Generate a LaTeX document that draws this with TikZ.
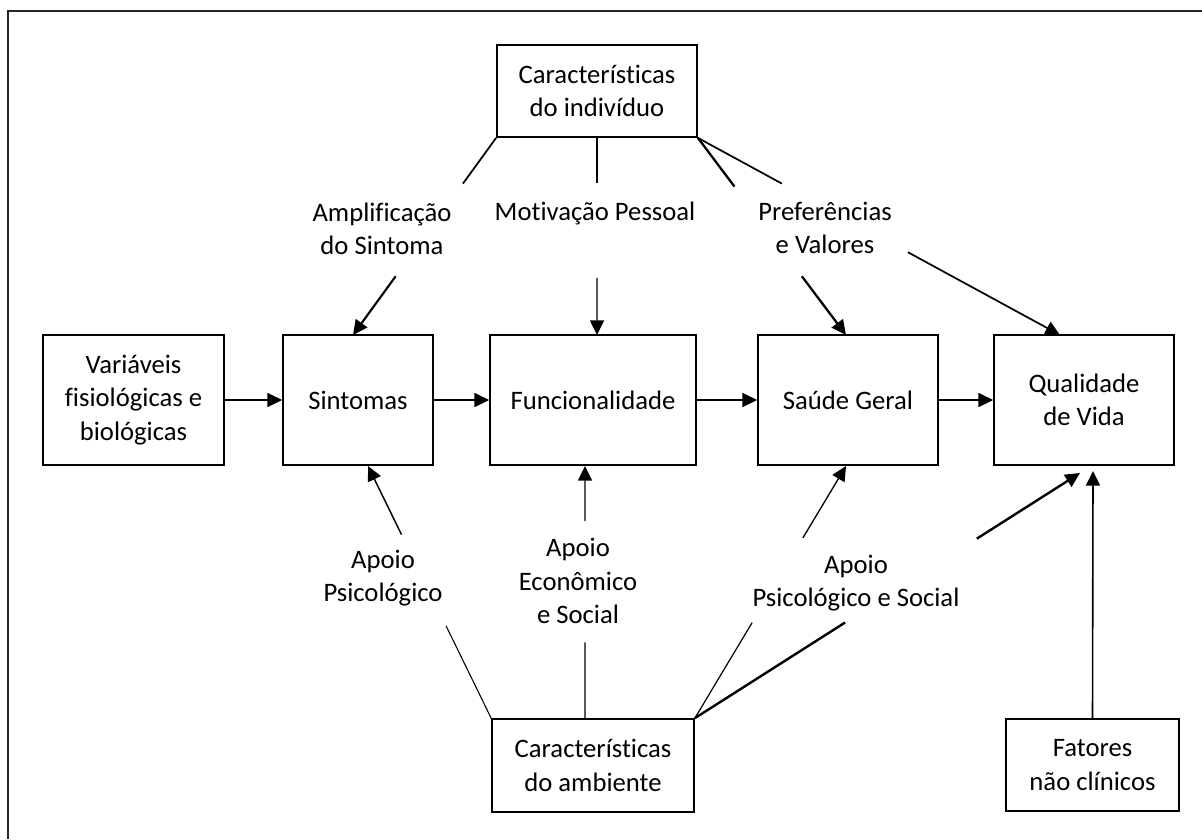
\documentclass[tikz,border=0pt]{standalone}
\usepackage{fontspec}
\setmainfont{Carlito}[Ligatures=NoCommon]
\usetikzlibrary{arrows.meta,calc}
\begin{document}
\begin{tikzpicture}[x=0.75pt,y=-0.75pt,
  box/.style={draw, line width=1.3pt, align=center, inner sep=0pt, font=\fontsize{20pt}{25pt}\selectfont},
  lbl/.style={align=center, inner sep=0pt, font=\fontsize{20pt}{25pt}\selectfont},
  arr/.style={-{Triangle[length=11pt,width=10.5pt]}},
  framestyle/.style={line width=1.6pt, draw=black!85}]
\useasboundingbox (0,0) rectangle (1202,839);
\draw[framestyle] (8,839) -- (8,11) -- (1202,11);

% boxes
\node[box, minimum width=150pt, minimum height=69pt] (top) at (597,91) {Características\\do indivíduo};
\node[box, minimum width=135.75pt, minimum height=97.5pt] (var) at (133.5,400) {Variáveis\\fisiológicas e\\biológicas};
\node[box, minimum width=112.5pt, minimum height=97.5pt] (sint) at (358,400) {Sintomas};
\node[box, minimum width=154.5pt, minimum height=97.5pt] (func) at (593,400) {Funcionalidade};
\node[box, minimum width=135pt, minimum height=97.5pt] (saude) at (848,400) {Saúde Geral};
\node[box, minimum width=135pt, minimum height=97.5pt] (qual) at (1084,400) {Qualidade\\de Vida};
\node[box, minimum width=151.5pt, minimum height=69.75pt] (amb) at (593,765.5) {Características\\do ambiente};
\node[box, minimum width=129.75pt, minimum height=69pt] (fat) at (1092.5,765) {Fatores\\não clínicos};

% labels
\node[lbl] (amp) at (382,229) {Amplificação\\do Sintoma};
\node[lbl] (mot) at (595,213) {Motivação Pessoal};
\node[lbl] (pref) at (825,228) {Preferências\\e Valores};
\node[lbl] (aps) at (383,578) {Apoio\\Psicológico};
\node[lbl] (aes) at (578,581) {Apoio\\Econômico\\e Social};
\node[lbl] (apss) at (856,583) {Apoio\\Psicológico e Social};

% connector ends
\coordinate (sT) at (353,335);
\coordinate (fT) at (597,335);
\coordinate (gT) at (846,335);
\coordinate (qT) at (1060,335);
\coordinate (sB) at (368,466);
\coordinate (fB) at (585,466);
\coordinate (gB) at (846,466);
\coordinate (qB) at (1080,473);
\coordinate (qF) at (1093,471);
\coordinate (tM) at (597,137);
\coordinate (aM) at (585,719);

% horizontal chain
\draw[arr, line width=1.2pt] (var.east) -- (sint.west);
\draw[arr, line width=1.2pt] (sint.east) -- (func.west);
\draw[arr, line width=1.2pt] (func.east) -- (saude.west);
\draw[arr, line width=1.2pt] (saude.east) -- (qual.west);

% from top box
\draw[line width=1.3pt] (top.south west) -- ($(top.south west)!0.232!(sT)$);
\draw[arr, line width=1.6pt] ($(top.south west)!0.702!(sT)$) -- (sT);
\draw[line width=1.1pt] (tM) -- ($(tM)!0.232!(fT)$);
\draw[arr, line width=1.1pt] ($(tM)!0.712!(fT)$) -- (fT);
\draw[line width=1.7pt] (top.south east) -- ($(top.south east)!0.247!(gT)$);
\draw[arr, line width=1.7pt] ($(top.south east)!0.702!(gT)$) -- (gT);
\draw[line width=1.3pt] (top.south east) -- ($(top.south east)!0.232!(qT)$);
\draw[arr, line width=1.3pt] ($(top.south east)!0.58!(qT)$) -- (qT);

% from bottom box
\draw[line width=0.8pt] (amb.north west) -- ($(amb.north west)!0.366!(sB)$);
\draw[arr, line width=1.1pt] ($(amb.north west)!0.728!(sB)$) -- (sB);
\draw[line width=1.1pt] (aM) -- ($(aM)!0.303!(fB)$);
\draw[arr, line width=1.1pt] ($(aM)!0.783!(fB)$) -- (fB);
\draw[line width=0.9pt] (amb.north east) -- ($(amb.north east)!0.379!(gB)$);
\draw[arr, line width=1.0pt] ($(amb.north east)!0.715!(gB)$) -- (gB);
\draw[line width=1.8pt] (amb.north east) -- ($(amb.north east)!0.39!(qB)$);
\draw[arr, line width=1.8pt] ($(amb.north east)!0.732!(qB)$) -- (qB);

% non-clinical factors
\draw[arr, line width=1.2pt] (fat.north) -- (qF);
\end{tikzpicture}
\end{document}
